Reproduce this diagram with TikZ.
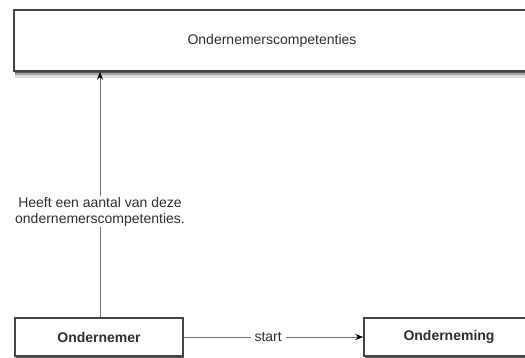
\documentclass[tikz,border=0pt]{standalone}
\usepackage{fontspec}
\setmainfont{Liberation Sans}
\usetikzlibrary{shadows,arrows.meta}
\definecolor{boxline}{HTML}{444444}
\definecolor{conline}{HTML}{707070}
\definecolor{txt}{HTML}{2E2E2E}
\tikzset{
  ent/.style={draw=boxline, line width=1.4pt, fill=white, rectangle, inner sep=0pt,
    text=txt, font=\fontsize{14}{16}\selectfont\bfseries,
    drop shadow={shadow xshift=0.5pt, shadow yshift=-7pt, fill=black, opacity=0.15},
    drop shadow={shadow xshift=0.5pt, shadow yshift=-4.5pt, fill=black, opacity=0.25},
    drop shadow={shadow xshift=0.5pt, shadow yshift=-2pt, fill=black, opacity=0.45}},
  topent/.style={ent, font=\fontsize{14}{16}\selectfont},
  con/.style={draw=conline, line width=0.9pt, -{Stealth[length=8pt,width=6pt,black]}},
  lbl/.style={fill=white, text=txt, inner sep=1pt, align=center,
    font=\fontsize{14}{16}\selectfont}
}
\begin{document}
\begin{tikzpicture}[x=1pt,y=-1pt]
\useasboundingbox (0,0) rectangle (525,358);
\clip (0,0) rectangle (525,358);
\node[topent, minimum width=516pt, minimum height=61pt] (comp) at (272,40.5) {Ondernemerscompetenties};
\node[ent, minimum width=168pt, minimum height=38pt] (ondernemer) at (99,337) {Ondernemer};
\node[ent, minimum width=170pt, minimum height=38pt] (onderneming) at (449,337) {Onderneming};
\coordinate (top) at (100,71);
\draw[con] (ondernemer.north -| top) -- (comp.south -| top)
  node[lbl, pos=0.43] (heeft) {Heeft een aantal van deze\\ondernemerscompetenties.};
\draw[con] (ondernemer.east) -- (onderneming.west)
  node[lbl, pos=0.47, inner sep=4pt] (start) {start};
\end{tikzpicture}
\end{document}
